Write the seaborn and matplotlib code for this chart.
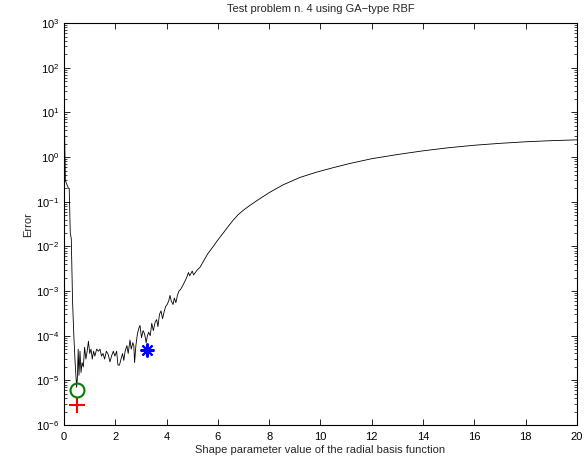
import matplotlib
matplotlib.use('Agg')
import matplotlib.pyplot as plt
import seaborn as sns
from matplotlib.ticker import LogLocator, FixedLocator, NullFormatter

# ==================== data ====================
shape_param = [0.01, 0.03, 0.05, 0.10, 0.17, 0.20, 0.24, 0.28, 0.33, 0.38, 0.43, 0.49,
               0.52, 0.55, 0.58, 0.62, 0.66, 0.70, 0.75, 0.80, 0.85, 0.90, 0.95, 1.00,
               1.05, 1.10, 1.15, 1.20, 1.27, 1.34, 1.40, 1.46, 1.52, 1.58, 1.65, 1.72,
               1.79, 1.85, 1.92, 1.98, 2.05, 2.10, 2.16, 2.22, 2.28, 2.33, 2.38, 2.45,
               2.50, 2.57, 2.62, 2.68, 2.72, 2.75, 2.80, 2.86, 2.92, 2.96, 3.02, 3.08,
               3.14, 3.20, 3.25, 3.30, 3.36, 3.42, 3.48, 3.55, 3.61, 3.66, 3.72, 3.78,
               3.84, 3.90, 3.96, 4.02, 4.08, 4.13, 4.18, 4.25, 4.30, 4.36, 4.42, 4.48,
               4.55, 4.62, 4.70, 4.78, 4.85, 4.90, 4.95, 5.00, 5.05, 5.12, 5.20, 5.30,
               5.45, 5.60, 5.82, 6.00, 6.21, 6.40, 6.60, 6.80, 7.00, 7.25, 7.51, 8.00,
               8.55, 9.20, 9.85, 10.5, 11.15, 12.0, 13.0, 14.0, 15.0, 16.0,
               17.0, 18.0, 19.0, 20.0]
error = [10.0, 1.5, 0.3, 0.25, 0.2, 0.2, 0.02, 0.015, 6e-4, 1e-4, 2.5e-5, 7e-6,
         1.2e-5, 5e-5, 1.3e-5, 4.5e-5, 1.5e-5, 2.5e-5, 2.0e-5, 5.5e-5, 3e-5, 4.5e-5, 7.5e-5, 4e-5,
         5e-5, 3e-5, 4.5e-5, 3.5e-5, 5e-5, 4.5e-5, 5e-5, 3.5e-5, 4e-5, 3e-5, 4.5e-5, 3.8e-5,
         2.6e-5, 3.5e-5, 4.5e-5, 3.5e-5, 4.5e-5, 2.2e-5, 2.2e-5, 3e-5, 4e-5, 2.8e-5, 4.5e-5, 6e-5,
         4e-5, 8e-5, 5e-5, 7e-5, 6e-5, 2.5e-5, 6e-5, 1.1e-4, 1.5e-4, 1.7e-4, 9e-5, 1.3e-4,
         1.1e-4, 7e-5, 1.0e-4, 1.2e-4, 1.0e-4, 1.9e-4, 1.3e-4, 2.0e-4, 2.3e-4, 1.6e-4, 3e-4, 3.6e-4,
         2.4e-4, 3.4e-4, 4.5e-4, 5e-4, 6e-4, 8e-4, 6e-4, 5e-4, 7e-4, 5.5e-4, 8e-4, 1.0e-3,
         1.1e-3, 1.3e-3, 1.6e-3, 2.0e-3, 2.6e-3, 2.2e-3, 2.5e-3, 2.8e-3, 2.3e-3, 2.6e-3, 3.0e-3, 3.4e-3,
         4.8e-3, 6.8e-3, 1.0e-2, 1.4e-2, 2.0e-2, 2.8e-2, 3.9e-2, 5.2e-2, 6.5e-2, 8.3e-2, 0.105, 0.16,
         0.24, 0.35, 0.46, 0.58, 0.72, 0.92, 1.14, 1.38, 1.62, 1.84,
         2.03, 2.2, 2.33, 2.43]

plus_pt = (0.49, 2.8e-6)
circle_pt = (0.49, 6e-6)
star_pt = (3.22, 4.8e-5)

xticks = [0, 2, 4, 6, 8, 10, 12, 14, 16, 18, 20]

title = 'Test problem n. 4 using GA\u2212type RBF'
xlabel = 'Shape parameter value of the radial basis function'
ylabel = 'Error'

# ==================== style ====================
sns.set_style('ticks')
plt.rcParams['font.family'] = ['Liberation Sans', 'DejaVu Sans']
plt.rcParams['mathtext.fontset'] = 'custom'
plt.rcParams['mathtext.rm'] = 'Liberation Sans'
plt.rcParams['mathtext.it'] = 'Liberation Sans:italic'
plt.rcParams['mathtext.bf'] = 'Liberation Sans:bold'
plt.rcParams['font.size'] = 8

fig = plt.figure(figsize=(5.88, 4.62), dpi=100)
ax = fig.add_axes([0.109, 0.080, 0.872, 0.870])

sns.lineplot(x=shape_param, y=error, color='black', linewidth=0.6,
             estimator=None, sort=False, ax=ax)

ax.plot(plus_pt[0], plus_pt[1], marker='+', color='red', markersize=11, mew=1.5, linestyle='none')
ax.plot(circle_pt[0], circle_pt[1], marker='o', markerfacecolor='none', markeredgecolor='green',
        markersize=10, mew=1.5, linestyle='none')
ax.plot(star_pt[0], star_pt[1], marker=(8, 2, 0), color='blue', markersize=10, mew=1.5, linestyle='none')

ax.set_yscale('log')
ax.set_xlim(0, 20)
ax.set_ylim(1e-6, 1e3)
ax.xaxis.set_major_locator(FixedLocator(xticks))
ax.yaxis.set_major_locator(LogLocator(base=10, numticks=20))
ax.yaxis.set_minor_locator(LogLocator(base=10, subs=range(2, 10), numticks=20))
ax.yaxis.set_minor_formatter(NullFormatter())

for side in ['top', 'right', 'left', 'bottom']:
    ax.spines[side].set_visible(True)
    ax.spines[side].set_linewidth(0.8)
    ax.spines[side].set_color('black')

ax.tick_params(which='both', direction='in', top=True, right=True, labelsize=8, colors='black')
ax.tick_params(which='major', length=4, width=0.6)
ax.tick_params(which='minor', length=2, width=0.5)
ax.tick_params(axis='x', pad=5)

ax.set_title(title, fontsize=8, pad=8)
ax.set_xlabel(xlabel, fontsize=8, labelpad=2)
ax.set_ylabel(ylabel, fontsize=8, labelpad=2)

fig.savefig('out.png', dpi=100, facecolor='white')
